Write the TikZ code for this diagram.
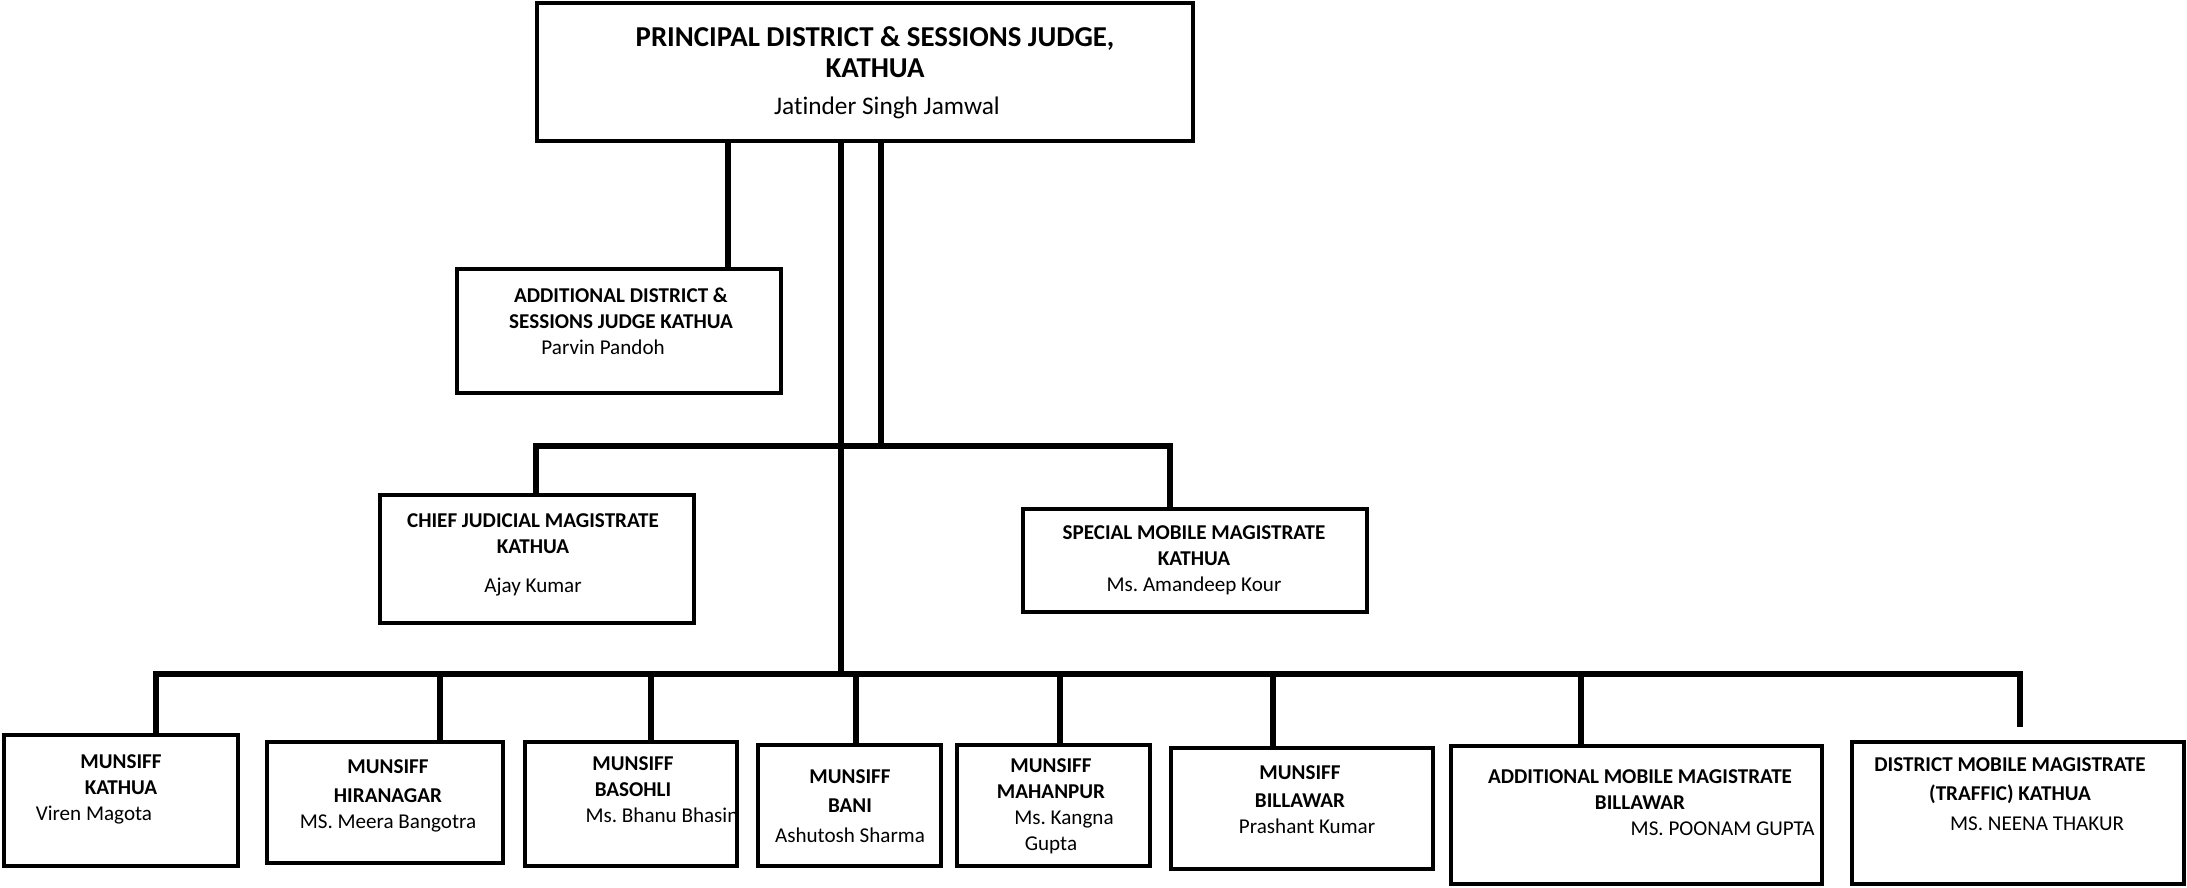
\documentclass[tikz,border=0pt]{standalone}
\usepackage{fontspec}
\setmainfont{Carlito}[Ligatures=CommonOff]
\usetikzlibrary{fit}
\frenchspacing

\begin{document}
\begin{tikzpicture}[x=0.01cm, y=-0.01cm,
        office/.style={draw, line width=1pt, inner sep=0pt},
        link/.style={line width=1.7pt},
        info/.style={align=center, inner sep=0pt, font=\fontsize{6pt}{7.4pt}\selectfont}]

        \useasboundingbox (0,0) rectangle (2187,888);

        % boxes
        \node[office, fit={(537,3) (1193,141)}] (pdsj) {};
        \node[office, fit={(457,269) (781,393)}] (adsj) {};
        \node[office, fit={(380,495) (694,623)}] (cjm) {};
        \node[office, fit={(1023,509) (1367,612)}] (smm) {};

        \node[office, fit={(4,735) (238,866)}] (kathua) {};
        \node[office, fit={(267,742) (503,863)}] (hira) {};
        \node[office, fit={(525,742) (737,866)}] (basohli) {};
        \node[office, fit={(758,745) (941,866)}] (bani) {};
        \node[office, fit={(957,745) (1150,866)}] (mahanpur) {};
        \node[office, fit={(1171,748) (1433,869)}] (billawar) {};
        \node[office, fit={(1451,746) (1822,884)}] (amm) {};
        \node[office, fit={(1852,742) (2184,884)}] (dmm) {};

        % texts
        \node[info, font=\fontsize{8.2pt}{8.8pt}\selectfont] (pdsjText) at (875,73)
            {\textbf{PRINCIPAL DISTRICT \& SESSIONS JUDGE,}\\\textbf{KATHUA}\\[1.7pt]{\fontsize{7.2pt}{8.8pt}\selectfont\hspace*{6.8pt}Jatinder Singh Jamwal}};
        \node[info] (adsjText) at (621,321)
            {\textbf{ADDITIONAL DISTRICT \&}\\\textbf{SESSIONS JUDGE KATHUA}\\Parvin Pandoh\hspace*{10.2pt}};
        \node[info] (cjmText) at (533,555)
            {\textbf{CHIEF JUDICIAL MAGISTRATE}\\\textbf{KATHUA}\\[3.7pt]Ajay Kumar};
        \node[info] (smmText) at (1194,560)
            {\textbf{SPECIAL MOBILE MAGISTRATE}\\\textbf{KATHUA}\\Ms. Amandeep Kour};

        \node[info] (kathuaText) at (121,789)
            {\textbf{MUNSIFF}\\\textbf{KATHUA}\\Viren Magota\hspace*{15.4pt}};
        \node[info] (hiraText) at (388,796)
            {\textbf{MUNSIFF}\\[1pt]\textbf{HIRANAGAR}\\MS. Meera Bangotra};
        \node[info] (basohliText) at (633,790)
            {\textbf{MUNSIFF}\\\textbf{BASOHLI}\\\hspace*{16.5pt}Ms. Bhanu Bhasin};
        \node[info] (baniText) at (850,806)
            {\textbf{MUNSIFF}\\[1pt]\textbf{BANI}\\[1pt]Ashutosh Sharma};
        \node[info] (mahanpurText) at (1051,806)
            {\textbf{MUNSIFF}\\\textbf{MAHANPUR}\\\hspace*{7.4pt}Ms. Kangna\\Gupta};
        \node[info] (billawarText) at (1300,800)
            {\textbf{MUNSIFF}\\[0.5pt]\textbf{BILLAWAR}\\\hspace*{4pt}Prashant Kumar};
        \node[info] (ammText) at (1640,803)
            {\textbf{ADDITIONAL MOBILE MAGISTRATE}\\\textbf{BILLAWAR}\hspace*{6.3pt}\\\hspace*{47pt}MS. POONAM GUPTA};
        \node[info] (dmmText) at (2010,794)
            {\textbf{DISTRICT MOBILE MAGISTRATE}\\[1pt]\textbf{(TRAFFIC) KATHUA}\\[1pt]\hspace*{15.4pt}MS. NEENA THAKUR};

        % connectors
        \coordinate (t1) at (728,0);
        \coordinate (spine) at (841,0);
        \coordinate (t3) at (881,0);
        \coordinate (a1) at (536,446);
        \coordinate (a2) at (1170,446);
        \coordinate (b1) at (156,674);
        \coordinate (b2) at (440,674);
        \coordinate (b3) at (651,674);
        \coordinate (b4) at (856,674);
        \coordinate (b5) at (1060,674);
        \coordinate (b6) at (1273,674);
        \coordinate (b7) at (1581,674);
        \coordinate (b8) at (2020,674);
        \coordinate (b8end) at (2020,727);

        \draw[link] (t1 |- pdsj.south) -- (t1 |- adsj.north);
        \draw[link] (spine |- pdsj.south) -- (spine |- b1);
        \draw[link] (t3 |- pdsj.south) -- (t3 |- a1);
        \draw[link] (a1 |- cjm.north) -- (a1) -- (a2) -- (a2 |- smm.north);
        \draw[link] (b1 |- kathua.north) -- (b1) -- (b8) -- (b8end);
        \foreach \c/\n in {b2/hira, b3/basohli, b4/bani, b5/mahanpur, b6/billawar, b7/amm}
            \draw[link] (\c) -- (\c |- \n.north);
\end{tikzpicture}
\end{document}
